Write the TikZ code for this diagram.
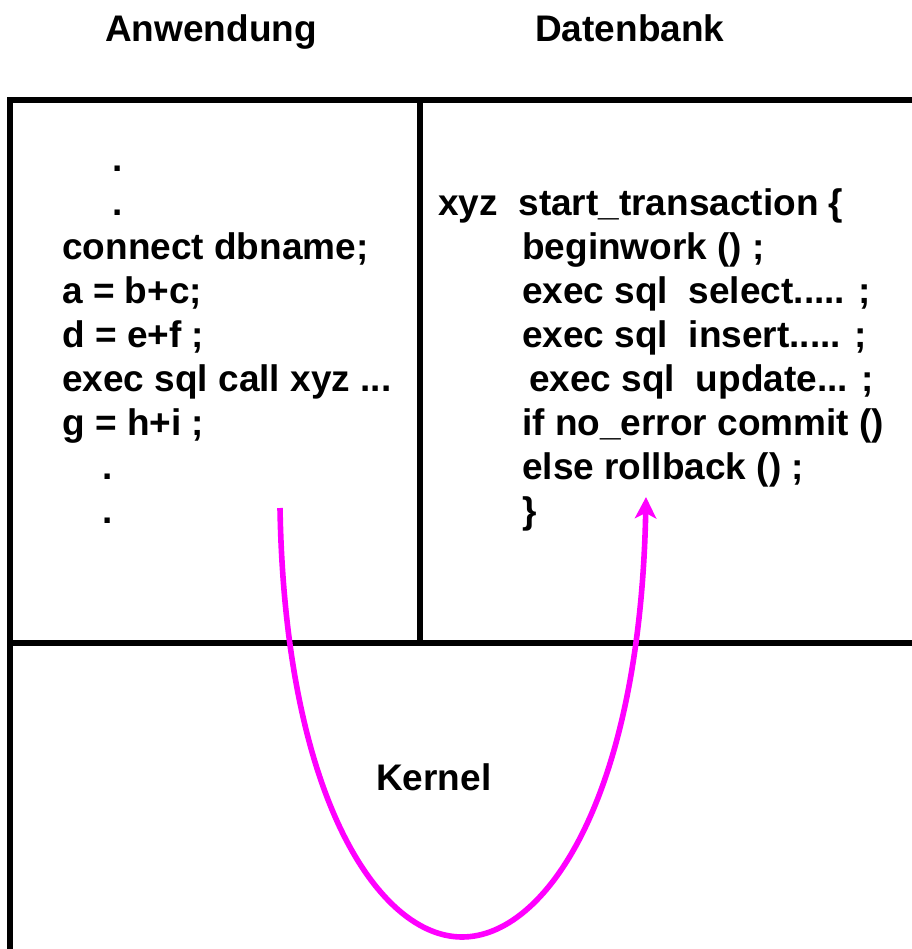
\documentclass[tikz,border=0pt]{standalone}
\usepackage{fontspec}
\setmainfont{Liberation Sans}
\usetikzlibrary{arrows.meta}
\definecolor{callpink}{RGB}{255,0,255}

\begin{document}
\begin{tikzpicture}[x=0.75pt, y=-0.75pt,
    code/.style={anchor=base west, inner sep=0pt, font=\fontsize{27.75}{33}\selectfont\bfseries},
    frame/.style={line width=4.5pt},
    call/.style={callpink, line width=4.2pt, -{Stealth[length=16pt, width=16pt, inset=4pt]}}]
    \useasboundingbox (0,0) rectangle (912,949);

    \node[code] (anwendung) at (105,42) {Anwendung};
    \node[code] (datenbank) at (535,42) {Datenbank};

    % frame
    \draw[frame] (912,100) -- (10,100) -- (10,949);
    \draw[frame] (420,100) -- (420,643);
    \draw[frame] (10,643) -- (912,643);

    % application code
    \node[code] (dot-1) at (112,171) {.};
    \node[code] (dot-2) at (112,215) {.};
    \node[code] (app-1) at (62,259) {connect dbname;};
    \node[code] (app-2) at (62,303) {a = b+c;};
    \node[code] (app-3) at (62,347) {d = e+f ;};
    \node[code] (app-4) at (62,391) {exec sql call xyz ...};
    \node[code] (app-5) at (62,435) {g = h+i ;};
    \node[code] (dot-3) at (102,479) {.};
    \node[code] (dot-4) at (102,523) {.};

    % stored procedure
    \node[code] (db-0) at (438,215) {xyz\ \ start\_transaction \{};
    \node[code] (db-1) at (522,259) {beginwork () ;};
    \node[code] (db-2) at (522,303) {exec sql\ \ select..... ;};
    \node[code] (db-3) at (522,347) {exec sql\ \ insert..... ;};
    \node[code] (db-4) at (529,391) {exec sql\ \ update... ;};
    \node[code] (db-5) at (522,435) {if no\_error commit ()};
    \node[code] (db-6) at (522,479) {else rollback () ;};
    \node[code] (db-7) at (522,523) {\}};

    \node[code] (kernel) at (376,790) {Kernel};

    % call through the kernel
    \coordinate (callstart) at (280,508);
    \coordinate (turn) at (462,937);
    \coordinate (callend) at (646,497);
    \draw[call] (callstart) .. controls (285,800) and (380,937) .. (turn)
        .. controls (545,937) and (640,800) .. (callend);
\end{tikzpicture}
\end{document}
